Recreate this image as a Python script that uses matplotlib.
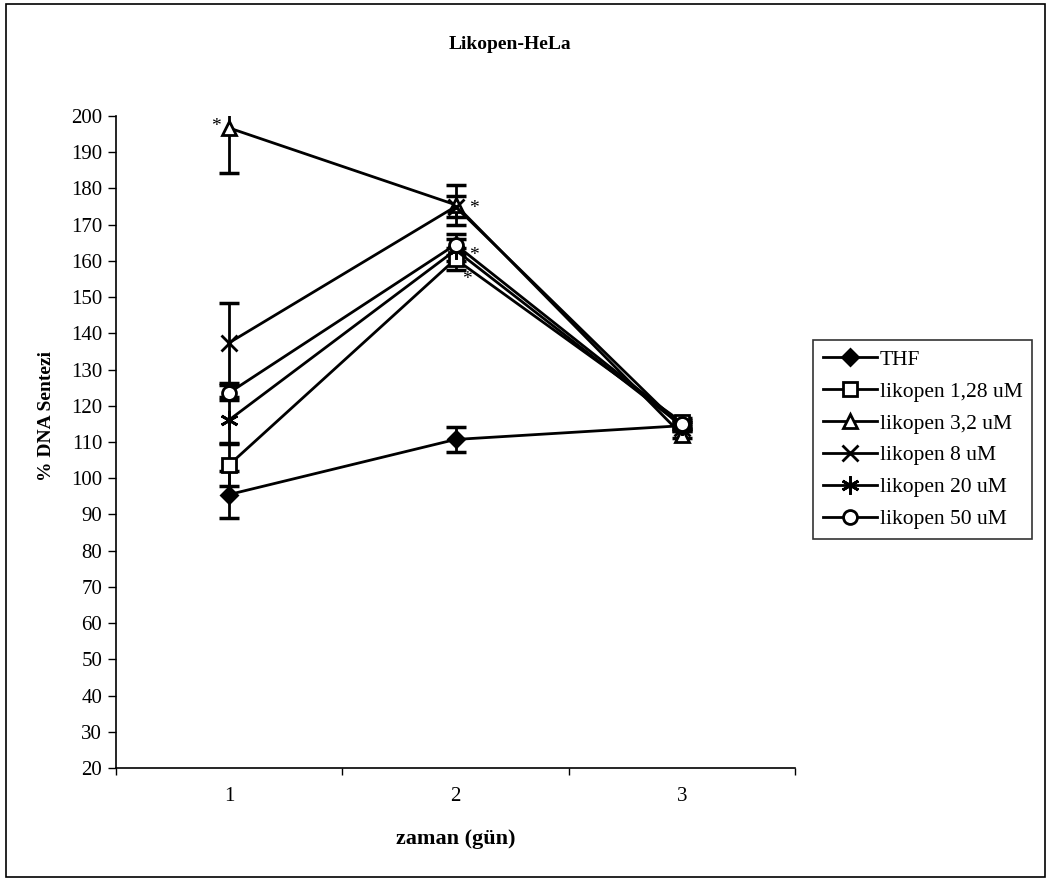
import numpy as np
import matplotlib
matplotlib.use("Agg")
from matplotlib import pyplot as plt
from matplotlib.patches import Rectangle

plt.rcParams['font.family'] = ['Liberation Serif', 'DejaVu Serif']

# data
days = [1, 2, 3]
series_names = ['THF', 'likopen 1,28 uM', 'likopen 3,2 uM',
                'likopen 8 uM', 'likopen 20 uM', 'likopen 50 uM']
thf = [95.5, 110.7, 114.5]
lik_128 = [103.7, 160.5, 115.5]
lik_32 = [196.7, 175.5, 112.0]
lik_8 = [137.4, 175.0, 114.0]
lik_20 = [116.1, 163.0, 114.5]
lik_50 = [123.6, 164.5, 115.0]

thf_err = [6.5, 3.4, 1.0]
lik_128_err = [5.8, 3.0, 1.0]
lik_32_err = [12.5, 5.5, 1.0]
lik_8_err = [11.0, 3.0, 1.0]
lik_20_err = [6.3, 3.0, 1.0]
lik_50_err = [2.0, 3.0, 1.0]

# significance marks (day, value)
star_day = [0.94, 2.08, 2.08, 2.05]
star_val = [197.0, 174.5, 161.5, 155.0]

values = [thf, lik_128, lik_32, lik_8, lik_20, lik_50]
errors = [thf_err, lik_128_err, lik_32_err, lik_8_err, lik_20_err, lik_50_err]
markers = ['D', 's', '^', 'x', (6, 2, 0), 'o']
faces = ['black', 'white', 'white', 'black', 'black', 'white']
msizes = [8, 10, 10, 11, 13, 10]

fig = plt.figure(figsize=(10.51, 8.81), dpi=100)
ax = fig.add_axes([0.1104, 0.1283, 0.6460, 0.7400])

handles = []
for vals, err, m, fc, ms, name in zip(values, errors, markers, faces, msizes, series_names):
    ax.errorbar(days, vals, yerr=err, fmt='none', ecolor='black',
                elinewidth=2, capsize=7, capthick=2.5, zorder=2)
    h, = ax.plot(days, vals, color='black', lw=2, marker=m, ms=ms,
                 mfc=fc, mec='black', mew=2, label=name, zorder=3)
    handles.append(h)

for d, v in zip(star_day, star_val):
    ax.text(d, v, '*', fontsize=14, ha='center', va='center')

ax.set_xlim(0.5, 3.5)
ax.set_ylim(20, 200)
ax.set_yticks(np.arange(20, 201, 10))
ax.set_xticks([0.5, 1.5, 2.5, 3.5])
ax.set_xticklabels([])
ax.set_xticks(days, minor=True)
ax.set_xticklabels([str(d) for d in days], minor=True)
ax.tick_params(axis='x', which='minor', length=0, pad=14, labelsize=15)
ax.tick_params(axis='x', which='major', length=5, width=1, direction='out')
ax.tick_params(axis='y', length=6, width=1, direction='out', labelsize=15, pad=4)
for s in ['top', 'right']:
    ax.spines[s].set_visible(False)
for s in ['left', 'bottom']:
    ax.spines[s].set_linewidth(1.2)

ax.set_xlabel('zaman (gün)', fontsize=16, fontweight='bold', labelpad=16)
ax.set_ylabel('% DNA Sentezi', fontsize=14, fontweight='bold')
ax.yaxis.set_label_coords(-0.09, 0.54)
fig.text(0.485, 0.949, 'Likopen-HeLa', fontsize=14, fontweight='bold',
         ha='center', va='center')

leg = fig.legend(handles=handles, loc='upper left',
                 bbox_to_anchor=(813 / 1051, 1 - 340 / 881),
                 bbox_transform=fig.transFigure, fontsize=15.5,
                 frameon=True, fancybox=False, edgecolor='black',
                 handlelength=2.5, handletextpad=0.15, labelspacing=0.55,
                 borderaxespad=0, borderpad=0.45)
leg.get_frame().set_linewidth(1.2)

fig.patches.append(Rectangle((0.006, 0.004), 0.988, 0.991, transform=fig.transFigure,
                             fill=False, edgecolor='black', lw=1.2))

fig.savefig('out.png', dpi=100)
